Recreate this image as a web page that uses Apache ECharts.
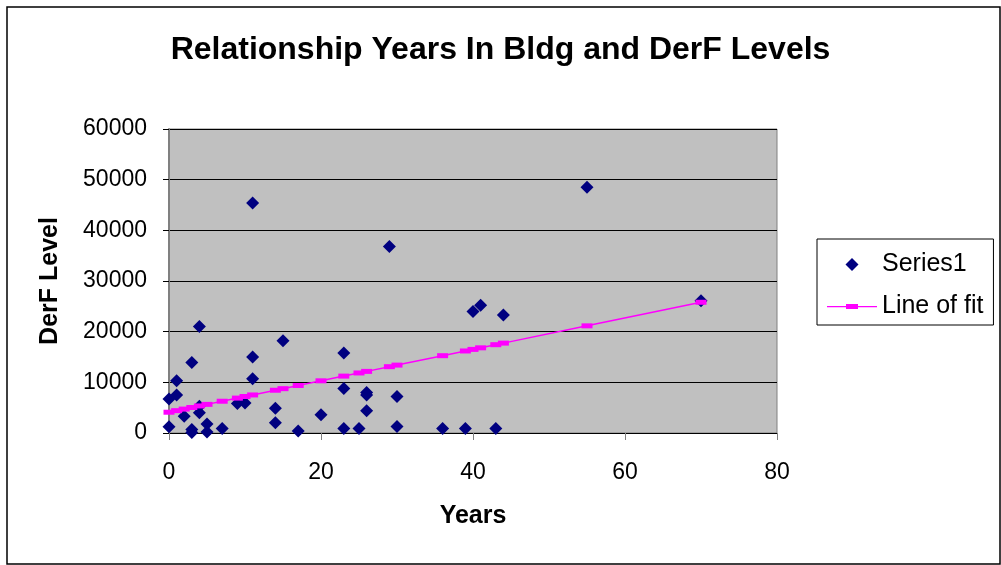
<!DOCTYPE html>
<html>
<head>
<meta charset="utf-8">
<title>Relationship Years In Bldg and DerF Levels</title>
<script src="https://cdn.jsdelivr.net/npm/echarts@6/dist/echarts.min.js"></script>
<style>
  html, body { margin: 0; padding: 0; background: #ffffff; }
  #chart { width: 1001px; height: 565px; }
</style>
</head>
<body>
<div id="chart"></div>
<script>
// Years in building for each sample
const years = [0, 0, 1, 1, 2, 3, 3, 3, 4, 4, 4, 5, 5, 7, 9, 10, 11, 11, 11, 14, 14, 15, 17, 20,
  23, 23, 23, 25, 26, 26, 26, 29, 30, 30, 36, 39, 40, 41, 43, 44, 55, 70];
// Measured DerF level for each sample
const derfLevels = [6700, 1250, 10300, 7500, 3300, 13900, 700, 100, 21000, 5300, 4000, 1800, 200, 900,
  5800, 5900, 45400, 15000, 10700, 4900, 2000, 18200, 400, 3600, 15800, 8800, 900, 900, 8000, 7500,
  4400, 36800, 7200, 1300, 900, 900, 24000, 25200, 900, 23300, 48500, 26100];
// Line of fit, evaluated at each distinct year
const fitYears = [0, 1, 2, 3, 4, 5, 7, 9, 10, 11, 14, 15, 17, 20, 23, 25, 26, 29, 30, 36, 39, 40, 41, 43, 44, 55, 70];
const fitLevels = [4100, 4410, 4720, 5030, 5340, 5650, 6270, 6890, 7200, 7510, 8440, 8750, 9370, 10300,
  11230, 11850, 12160, 13090, 13400, 15260, 16190, 16500, 16810, 17430, 17740, 21150, 25800];

const FONT = "'Liberation Sans', Arial, sans-serif";

// Legend icons: a centred diamond, and a thin line with a small bar marker
const DIAMOND_ICON = 'path://M0,0L0,0M50,13L50,13M25,0L31.5,6.5L25,13L18.5,6.5Z';
const FIT_ICON = 'path://M0,0L0,0M50,13L50,13M0,6L50,6L50,7.2L0,7.2ZM19,4L31,4L31,9L19,9Z';

const chart = echarts.init(document.getElementById('chart'), null, { renderer: 'canvas' });

chart.setOption({
  backgroundColor: '#ffffff',
  animation: false,
  title: {
    text: 'Relationship Years In Bldg and DerF Levels',
    left: 'center',
    top: 29,
    textStyle: { fontFamily: FONT, fontSize: 32, fontWeight: 'bold', color: '#000000' }
  },
  legend: {
    orient: 'vertical',
    left: 817,
    top: 239,
    padding: [13, 10, 6, 10],
    borderColor: '#000000',
    borderWidth: 1,
    itemWidth: 50,
    itemHeight: 13,
    itemGap: 17,
    textStyle: { fontFamily: FONT, fontSize: 25, lineHeight: 25, color: '#000000' },
    data: [
      { name: 'Series1', icon: DIAMOND_ICON },
      { name: 'Line of fit', icon: FIT_ICON }
    ]
  },
  grid: {
    left: 169,
    right: 224,
    top: 129,
    bottom: 132,
    show: true,
    backgroundColor: '#C0C0C0',
    borderColor: '#808080',
    borderWidth: 1
  },
  xAxis: {
    type: 'value',
    min: 0,
    max: 80,
    interval: 20,
    name: 'Years',
    nameLocation: 'middle',
    nameGap: 71,
    nameTextStyle: { fontFamily: FONT, fontSize: 25, fontWeight: 'bold', color: '#000000' },
    axisLine: { show: true, onZero: false, lineStyle: { color: '#000000', width: 1 } },
    axisTick: { show: true, inside: false, length: 7, lineStyle: { color: '#808080', width: 1 } },
    axisLabel: { margin: 28, fontFamily: FONT, fontSize: 23, color: '#000000' },
    splitLine: { show: false }
  },
  yAxis: {
    type: 'value',
    min: 0,
    max: 60000,
    interval: 10000,
    name: 'DerF Level',
    nameLocation: 'middle',
    nameGap: 106,
    nameTextStyle: { fontFamily: FONT, fontSize: 25, fontWeight: 'bold', color: '#000000' },
    axisLine: { show: true, onZero: false, lineStyle: { color: '#808080', width: 2 } },
    axisTick: { show: true, inside: false, length: 6, lineStyle: { color: '#000000', width: 1 } },
    axisLabel: {
      margin: 22,
      fontFamily: FONT,
      fontSize: 23,
      color: '#000000',
      formatter: (v) => String(v)
    },
    splitLine: { show: true, lineStyle: { color: '#000000', width: 1 } }
  },
  series: [
    {
      name: 'Series1',
      type: 'scatter',
      symbol: 'diamond',
      symbolSize: 13,
      itemStyle: { color: '#000080', opacity: 1 },
      data: years.map((x, i) => [x, derfLevels[i]]),
      z: 3
    },
    {
      name: 'Line of fit',
      type: 'line',
      symbol: 'rect',
      symbolSize: [11, 5],
      showAllSymbol: true,
      itemStyle: { color: '#FF00FF', borderWidth: 0 },
      lineStyle: { color: '#FF00FF', width: 1.5 },
      data: fitYears.map((x, i) => [x, fitLevels[i]]),
      z: 4
    }
  ],
  graphic: [
    {
      type: 'rect',
      shape: { x: 7, y: 7, width: 993, height: 557 },
      style: { fill: 'none', stroke: '#000000', lineWidth: 1.5 },
      silent: true
    }
  ]
});
</script>
</body>
</html>
